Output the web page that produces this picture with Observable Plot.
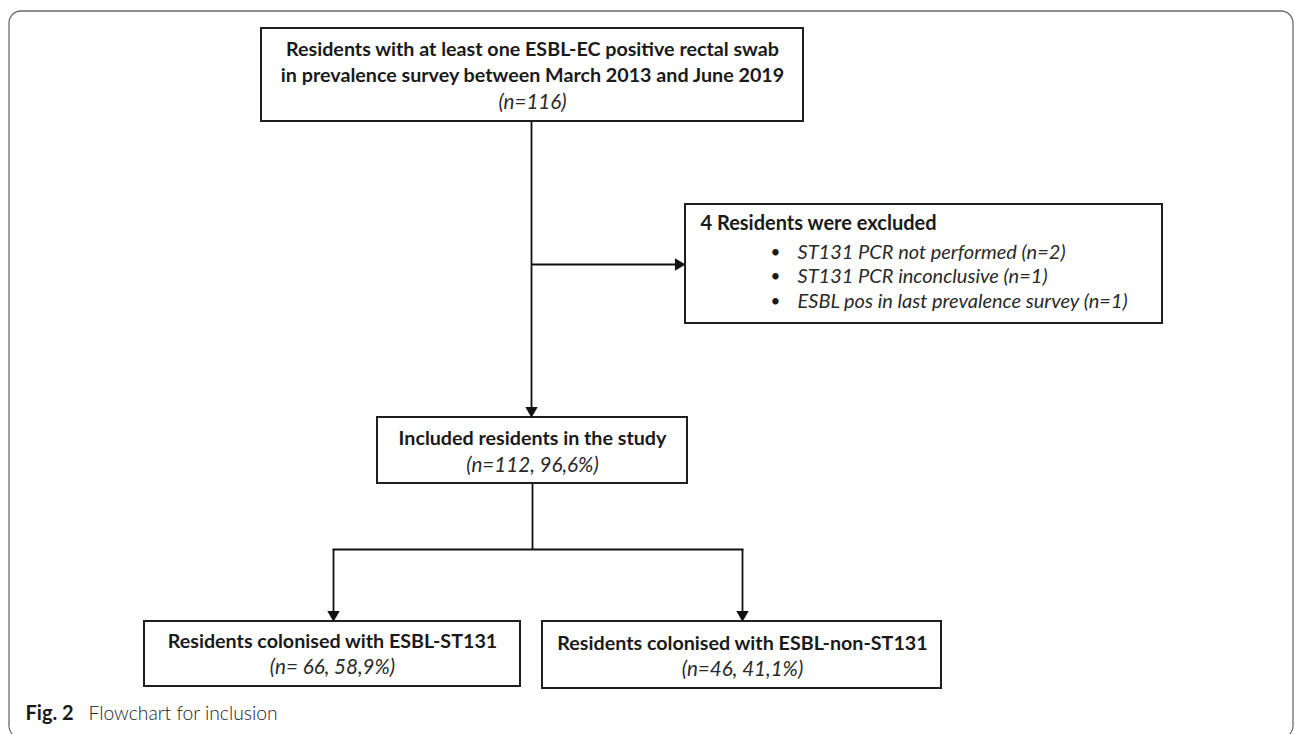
<!DOCTYPE html>
<html>
<head>
<meta charset="utf-8">
<script src="https://cdn.jsdelivr.net/npm/d3@7"></script>
<script src="https://cdn.jsdelivr.net/npm/@observablehq/plot@0.6"></script>
<style>
  html, body { margin: 0; padding: 0; background: #fff; }
  #chart svg { display: block; }
</style>
</head>
<body>
<div id="chart"></div>
<script>
// ---- data ----
const stageTitles = [
  "Residents with at least one ESBL-EC positive rectal swab\nin prevalence survey between March 2013 and June 2019",
  "Included residents in the study",
  "Residents colonised with ESBL-ST131",
  "Residents colonised with ESBL-non-ST131"
];
const stageCountLabels = ["(n=116)", "(n=112, 96,6%)", "(n= 66, 58,9%)", "(n=46, 41,1%)"];
const excludedTitle = "4 Residents were excluded";
const exclusionReasons = [
  "ST131 PCR not performed (n=2)",
  "ST131 PCR inconclusive (n=1)",
  "ESBL pos in last prevalence survey (n=1)"
];
const captionBold = "Fig. 2";
const captionText = "Flowchart for inclusion";

// ---- layout (pixel positions in the figure) ----
const W = 1295, H = 734;
const boxes = [
  {x1: 261, x2: 803, y1: 28, y2: 121},   // start
  {x1: 377, x2: 687, y1: 417, y2: 483},  // included
  {x1: 144, x2: 520, y1: 621, y2: 686},  // ST131
  {x1: 542, x2: 941, y1: 621, y2: 688},  // non-ST131
  {x1: 685, x2: 1162, y1: 204, y2: 323}  // excluded
];
const titleY = [[49, 75], [438], [641], [643]];
const countY = [102, 465, 667, 669];
const centerX = [532, 532, 332, 742];

const links = [
  {x1: 531, y1: 121, x2: 531, y2: 410},
  {x1: 531, y1: 264, x2: 678, y2: 264},
  {x1: 532, y1: 483, x2: 532, y2: 549},
  {x1: 332, y1: 549, x2: 743, y2: 549},
  {x1: 333, y1: 549, x2: 333, y2: 614},
  {x1: 742, y1: 549, x2: 742, y2: 614}
];
const heads = [
  {x: 531, y: 410, rot: 180},
  {x: 678, y: 264, rot: 90},
  {x: 333, y: 614, rot: 180},
  {x: 742, y: 614, rot: 180}
];

// ---- text rows built from the data ----
const titleRows = [];
stageTitles.forEach((t, i) => {
  t.split("\n").forEach((line, j) => titleRows.push({x: centerX[i], y: titleY[i][j], text: line}));
});
const countRows = stageCountLabels.map((t, i) => ({x: centerX[i], y: countY[i], text: t}));
const reasonRows = exclusionReasons.map((t, i) => ({y: [252, 276, 301][i], text: t}));

const font = "Lato, 'Open Sans', sans-serif";

const plot = Plot.plot({
  width: W,
  height: H,
  margin: 0,
  x: {domain: [0, W], range: [0, W], axis: null},
  y: {domain: [0, H], range: [0, H], axis: null},
  style: {fontFamily: font, background: "#fff"},
  marks: [
    // outer frame
    Plot.rect([{x1: 9, x2: 1293, y1: 11, y2: 738}], {x1: "x1", x2: "x2", y1: "y1", y2: "y2", fill: "none", stroke: "#6b6b6b", strokeWidth: 1.3, rx: 12}),
    // boxes
    Plot.rect(boxes, {x1: "x1", x2: "x2", y1: "y1", y2: "y2", fill: "#fff", stroke: "#1f1f1f", strokeWidth: 2}),
    // connectors
    Plot.link(links, {x1: "x1", y1: "y1", x2: "x2", y2: "y2", stroke: "#111", strokeWidth: 1.8}),
    Plot.dot(heads, {x: "x", y: "y", rotate: "rot", symbol: "triangle", r: 4.6, fill: "#111", stroke: "none"}),
    // box titles
    Plot.text(titleRows, {x: "x", y: "y", text: "text", fontSize: 19.7, fontWeight: "bold", fill: "#1a1a1a", textAnchor: "middle"}),
    Plot.text(countRows, {x: "x", y: "y", text: "text", fontSize: 20.6, fontStyle: "italic", fill: "#2a2a2a", textAnchor: "middle"}),
    // excluded box
    Plot.text([excludedTitle], {x: 700, y: 223, text: d => d, fontSize: 20, fontWeight: "bold", fill: "#1a1a1a", textAnchor: "start"}),
    Plot.text(reasonRows, {x: 775, y: "y", text: () => "•", fontSize: 17, fill: "#1a1a1a", textAnchor: "middle"}),
    Plot.text(reasonRows, {x: 797, y: "y", text: "text", fontSize: 20, fontStyle: "italic", fill: "#2a2a2a", textAnchor: "start"}),
    // caption
    Plot.text([captionBold], {x: 25, y: 713, text: d => d, fontSize: 20, fontWeight: "bold", fill: "#1a1a1a", textAnchor: "start"}),
    Plot.text([captionText], {x: 88, y: 713, text: d => d, fontSize: 19.3, fontWeight: 300, fill: "#222", textAnchor: "start"})
  ]
});
document.getElementById("chart").appendChild(plot);
</script>
</body>
</html>
